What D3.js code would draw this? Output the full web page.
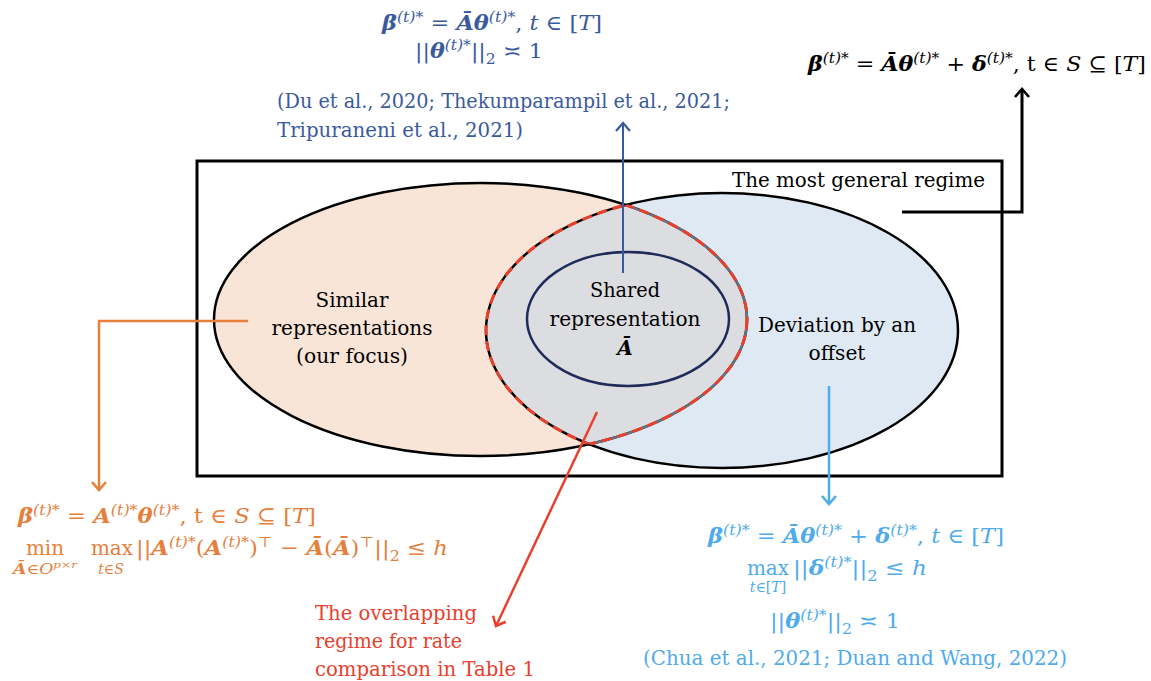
<!DOCTYPE html>
<html>
<head>
<meta charset="utf-8">
<script src="https://cdn.jsdelivr.net/npm/d3@7"></script>
<style>
  body { margin: 0; background: #fff; }
  svg { display: block; }
  text { white-space: pre; }
</style>
</head>
<body>
<svg id="chart" width="1151" height="681"></svg>
<script>
const W = 1151, H = 681;
const FONT = "'DejaVu Serif', 'Liberation Serif', serif";

// text content; {b:..} bold italic, {i:..} italic, {^:..} superscript, {_:..} subscript
const outerLabel = ['The most general regime'];
const leftLabel = ['Similar', 'representations', '(our focus)'];
const sharedLabel = ['Shared', 'representation', '{b:Ā}'];
const rightLabel = ['Deviation by an', 'offset'];
const overlapLabel = ['The overlapping', 'regime for rate', 'comparison in Table 1'];

const sharedFormula = [
  '{b:β}{^:(t)*} = {b:Ā}{b:θ}{^:(t)*}, {i:t} ∈ [{i:T}]',
  '||{b:θ}{^:(t)*}||{_:2} ≍ 1'
];
const sharedCites = ['(Du et al., 2020; Thekumparampil et al., 2021;', 'Tripuraneni et al., 2021)'];
const generalFormula = ['{b:β}{^:(t)*} = {b:Ā}{b:θ}{^:(t)*} + {b:δ}{^:(t)*}, t ∈ {i:S} ⊆ [{i:T}]'];
const similarFormula = [
  '{b:β}{^:(t)*} = {b:A}{^:(t)*}{b:θ}{^:(t)*}, t ∈ {i:S} ⊆ [{i:T}]',
  '||{b:A}{^:(t)*}({b:A}{^:(t)*}){^:⊤} − {b:Ā}({b:Ā}){^:⊤}||{_:2} ≤ {i:h}'
];
const similarOps = ['min', 'max'];
const similarOpSubs = ['{b:Ā}∈{i:O}{^:p×r}', '{i:t}∈{i:S}'];
const offsetFormula = [
  '{b:β}{^:(t)*} = {b:Ā}{b:θ}{^:(t)*} + {b:δ}{^:(t)*}, {i:t} ∈ [{i:T}]',
  '||{b:δ}{^:(t)*}||{_:2} ≤ {i:h}',
  '||{b:θ}{^:(t)*}||{_:2} ≍ 1'
];
const offsetOps = ['max'];
const offsetOpSubs = ['{i:t}∈[{i:T}]'];
const offsetCites = ['(Chua et al., 2021; Duan and Wang, 2022)'];

const C = {
  navy: '#3a5a9e', orange: '#e5803c', sky: '#4fabec', red: '#e8402d',
  fillL: '#f8e5d7', fillR: '#dfe9f4', lens: '#dcdde1', inner: '#1f2b58', grey: '#6b7380'
};

const svg = d3.select('#chart');
const defs = svg.append('defs');

// regions
const L = { cx: 480.5, cy: 319.5, rx: 266.5, ry: 136.5 };
const R = { cx: 722, cy: 330.5, rx: 236, ry: 137.5 };
const S = { cx: 628, cy: 319, rx: 101, ry: 67 };

function ell(sel, e) {
  return sel.append('ellipse').attr('cx', e.cx).attr('cy', e.cy).attr('rx', e.rx).attr('ry', e.ry);
}
ell(defs.append('clipPath').attr('id', 'clipL'), L);
ell(defs.append('clipPath').attr('id', 'clipR'), R);

function marker(id, color, sw) {
  defs.append('marker').attr('id', id)
    .attr('viewBox', '-11 -9 13 18').attr('refX', 0).attr('refY', 0)
    .attr('markerWidth', 13).attr('markerHeight', 18)
    .attr('markerUnits', 'userSpaceOnUse').attr('orient', 'auto')
    .append('path').attr('d', 'M-8,-7 L0,0 L-8,7')
    .attr('fill', 'none').attr('stroke', color).attr('stroke-width', sw);
}
marker('mNavy', C.navy, 2.2);
marker('mBlack', '#000', 2.6);
marker('mOrange', C.orange, 2.5);
marker('mSky', C.sky, 2.5);
marker('mRed', C.red, 2.5);

// outer box
svg.append('rect').attr('x', 197).attr('y', 161).attr('width', 805).attr('height', 315)
  .attr('fill', 'none').attr('stroke', '#000').attr('stroke-width', 3);

// fills
ell(svg, L).attr('fill', C.fillL);
ell(svg, R).attr('fill', C.fillR);
ell(svg, R).attr('fill', C.lens).attr('clip-path', 'url(#clipL)');

// outlines
ell(svg, R).attr('fill', 'none').attr('stroke', '#000').attr('stroke-width', 2.5);
ell(svg, L).attr('fill', 'none').attr('stroke', '#000').attr('stroke-width', 2.5);
ell(svg, L).attr('fill', 'none').attr('stroke', C.grey).attr('stroke-width', 2.5).attr('clip-path', 'url(#clipR)');
ell(svg, L).attr('fill', 'none').attr('stroke', C.red).attr('stroke-width', 3)
  .attr('stroke-dasharray', '10,6').attr('clip-path', 'url(#clipR)');
ell(svg, R).attr('fill', 'none').attr('stroke', C.red).attr('stroke-width', 3)
  .attr('stroke-dasharray', '10,6').attr('clip-path', 'url(#clipL)');
ell(svg, S).attr('fill', 'none').attr('stroke', C.inner).attr('stroke-width', 2.5);

// rich text
function rich(t, str, size) {
  const re = /\{([bi^_]):([^}]*)\}|([^{]+)/g;
  let m, shift = 0;
  while ((m = re.exec(str))) {
    const kind = m[3] !== undefined ? 'r' : m[1];
    const txt = m[3] !== undefined ? m[3] : m[2];
    const lvl = kind === '^' ? -size * 0.4 : kind === '_' ? size * 0.28 : 0;
    const ts = t.append('tspan').text(txt).attr('dy', lvl - shift);
    shift = lvl;
    if (kind === '^' || kind === '_') ts.attr('font-size', size * 0.7);
    if (kind === 'b') ts.attr('font-weight', 'bold').attr('font-style', 'italic');
    if (kind === 'i' || kind === '^') ts.attr('font-style', 'italic');
  }
}
function put(str, o) {
  const size = o.size || 20;
  const t = svg.append('text')
    .attr('x', o.x).attr('y', o.y)
    .attr('fill', o.color || '#000')
    .attr('font-family', FONT)
    .attr('font-size', size)
    .attr('text-anchor', o.anchor || 'start');
  rich(t, str, size);
  if (o.w) t.attr('textLength', o.w).attr('lengthAdjust', 'spacingAndGlyphs');
  return t;
}

// labels inside the diagram
put(outerLabel[0], { x: 732, y: 187, w: 253 });
leftLabel.forEach((s, i) => put(s, { x: 352, y: 307 + i * 28, anchor: 'middle', w: [73, 161, 112][i] }));
sharedLabel.forEach((s, i) => put(s, { x: 625, y: 297 + i * 29, anchor: 'middle', w: [70, 151, null][i] }));
rightLabel.forEach((s, i) => put(s, { x: 837, y: 332 + i * 28, anchor: 'middle', w: [158, 57][i] }));

// shared representation (top, navy)
put(sharedFormula[0], { x: 382, y: 30, color: C.navy, size: 21, w: 220 });
put(sharedFormula[1], { x: 415, y: 58, color: C.navy, size: 21, w: 128 });
sharedCites.forEach((s, i) => put(s, { x: 277, y: 108 + i * 29, color: C.navy, w: [453, 246][i] }));

// general regime (right, black)
put(generalFormula[0], { x: 808, y: 71, size: 21, w: 338 });

// similar representations (orange)
put(similarFormula[0], { x: 18, y: 523, color: C.orange, size: 21, w: 298 });
put(similarOps[0], { x: 45, y: 555, color: C.orange, anchor: 'middle' });
put(similarOpSubs[0], { x: 45, y: 574, color: C.orange, anchor: 'middle', size: 14, w: 64 });
put(similarOps[1], { x: 112, y: 555, color: C.orange, anchor: 'middle' });
put(similarOpSubs[1], { x: 111, y: 574, color: C.orange, anchor: 'middle', size: 14 });
put(similarFormula[1], { x: 136, y: 555, color: C.orange, size: 21, w: 312 });

// deviation by an offset (light blue)
put(offsetFormula[0], { x: 708, y: 543, color: C.sky, size: 21, w: 296 });
put(offsetOps[0], { x: 768, y: 575, color: C.sky, anchor: 'middle' });
put(offsetOpSubs[0], { x: 768, y: 592, color: C.sky, anchor: 'middle', size: 14 });
put(offsetFormula[1], { x: 793, y: 575, color: C.sky, size: 21, w: 134 });
put(offsetFormula[2], { x: 770, y: 628, color: C.sky, size: 21, w: 130 });
put(offsetCites[0], { x: 643, y: 665, color: C.sky, w: 424 });

// overlapping regime (red)
overlapLabel.forEach((s, i) => put(s, { x: 315, y: 620 + i * 28, color: C.red, w: [162, 147, 220][i] }));

// arrows
const line = d3.line();
function arrow(pts, color, sw, mk) {
  svg.append('path').attr('d', line(pts)).attr('fill', 'none')
    .attr('stroke', color).attr('stroke-width', sw)
    .attr('marker-end', `url(#${mk})`);
}
arrow([[623, 273], [623, 123]], C.navy, 2, 'mNavy');
arrow([[902, 212], [1022, 212], [1022, 89]], '#000', 3, 'mBlack');
arrow([[248, 321], [99, 321], [99, 490]], C.orange, 2.5, 'mOrange');
arrow([[829, 386], [829, 504]], C.sky, 2.5, 'mSky');
arrow([[597, 412], [496, 626]], C.red, 2.5, 'mRed');
</script>
</body>
</html>
